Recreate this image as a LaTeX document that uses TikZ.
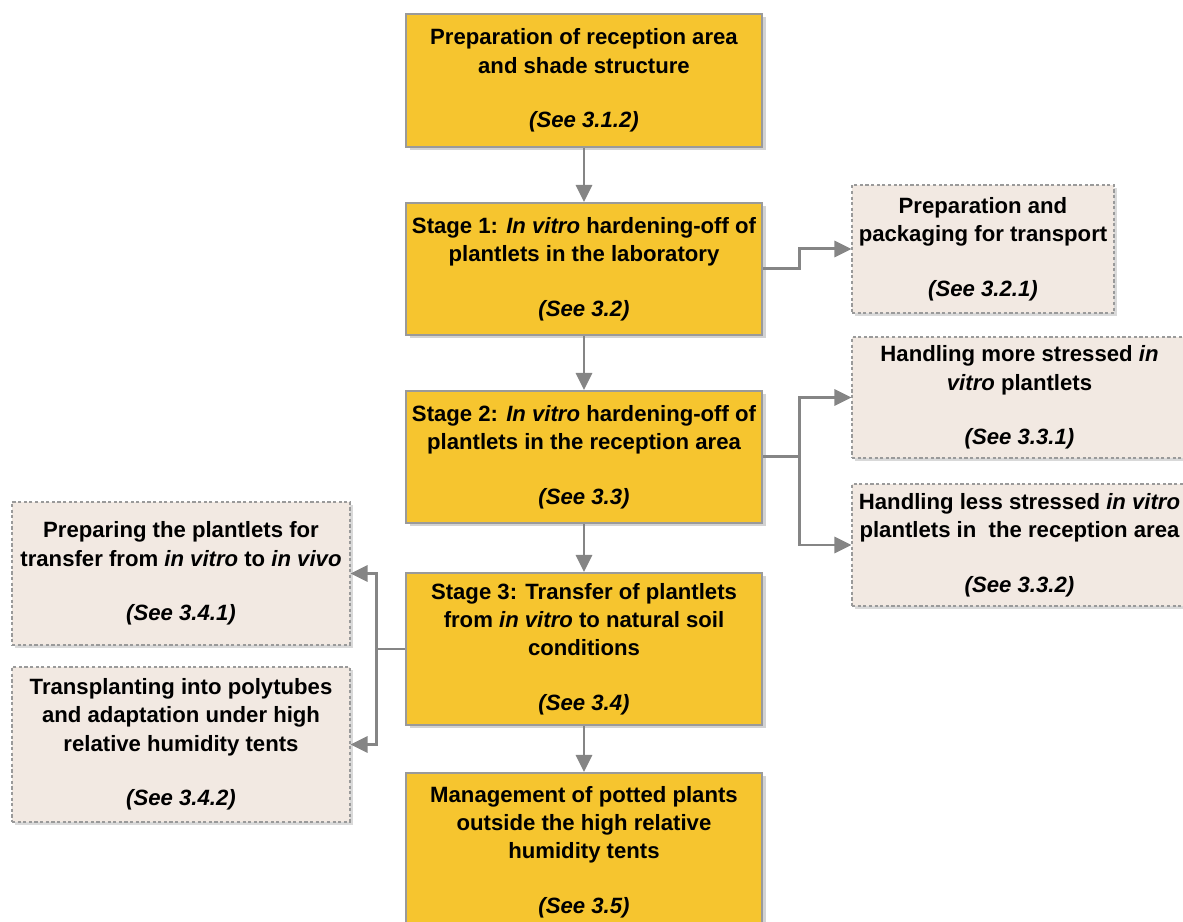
\documentclass[tikz,border=0pt]{standalone}
\usepackage{fontspec}
\setmainfont{Liberation Sans}
\usetikzlibrary{arrows.meta,shadows}

\definecolor{stageyellow}{HTML}{F6C52F}
\definecolor{notebeige}{HTML}{F2E9E2}
\definecolor{edgegray}{HTML}{9A9A9A}
\definecolor{arrowgray}{HTML}{858585}

\tikzset{
  stagebox/.style={draw=edgegray, line width=1.2pt, fill=stageyellow, align=center,
    font=\fontsize{12.6}{16}\selectfont\bfseries, inner xsep=0pt, inner ysep=2pt,
    drop shadow={shadow xshift=0.07cm, shadow yshift=-0.07cm, opacity=0.35}},
  notebox/.style={draw=edgegray, dash pattern=on 1.8pt off 1.4pt, line width=0.6pt, fill=notebeige, align=center,
    font=\fontsize{12.6}{16}\selectfont\bfseries, inner xsep=0pt, inner ysep=2pt,
    drop shadow={shadow xshift=0.06cm, shadow yshift=-0.06cm, opacity=0.3}},
  flow/.style={draw=arrowgray, line width=1.7pt, -{Triangle[length=0.34cm, width=0.32cm]}},
  link/.style={draw=arrowgray, line width=1.7pt},
}

\begin{document}
\begin{tikzpicture}

\useasboundingbox (0,0) rectangle (23.66,18.44);

% main stages
\node[stagebox, minimum width=7.12cm, minimum height=2.66cm] (prep) at (11.68,16.83)
  {Preparation of reception area\\ and shade structure\\[15pt]\textit{(See 3.1.2)}};
\node[stagebox, minimum width=7.12cm, minimum height=2.64cm] (stone) at (11.68,13.06)
  {Stage 1: \textit{In vitro} hardening-off of\\ plantlets in the laboratory\\[15pt]\textit{(See 3.2)}};
\node[stagebox, minimum width=7.12cm, minimum height=2.64cm] (sttwo) at (11.68,9.30)
  {Stage 2: \textit{In vitro} hardening-off of\\ plantlets in the reception area\\[15pt]\textit{(See 3.3)}};
\node[stagebox, minimum width=7.12cm, minimum height=3.04cm] (stthree) at (11.68,5.46)
  {Stage 3: Transfer of plantlets\\ from \textit{in vitro} to natural soil\\ conditions\\[15pt]\textit{(See 3.4)}};
\node[stagebox, minimum width=7.12cm, minimum height=3.16cm] (manage) at (11.68,1.40)
  {Management of potted plants\\ outside the high relative\\ humidity tents\\[15pt]\textit{(See 3.5)}};

% side notes
\node[notebox, minimum width=5.24cm, minimum height=2.56cm] (pack) at (19.66,13.46)
  {Preparation and\\ packaging for transport\\[15pt]\textit{(See 3.2.1)}};
\node[notebox, minimum width=6.7cm, minimum height=2.42cm] (more) at (20.39,10.49)
  {Handling more stressed \textit{in}\\ \textit{vitro} plantlets\\[15pt]\textit{(See 3.3.1)}};
\node[notebox, minimum width=6.7cm, minimum height=2.44cm] (less) at (20.39,7.54)
  {Handling less stressed \textit{in vitro}\\ plantlets in\ \ the reception area\\[15pt]\textit{(See 3.3.2)}};
\node[notebox, minimum width=6.76cm, minimum height=2.86cm] (ready) at (3.62,6.97)
  {Preparing the plantlets for\\ transfer from \textit{in vitro} to \textit{in vivo}\\[15pt]\textit{(See 3.4.1)}};
\node[notebox, minimum width=6.76cm, minimum height=3.10cm] (tubes) at (3.62,3.55)
  {Transplanting into polytubes\\ and adaptation under high\\ relative humidity tents\\[15pt]\textit{(See 3.4.2)}};

% connectors
\draw[flow] (prep) -- (stone);
\draw[flow] (stone) -- (sttwo);
\draw[flow] (sttwo) -- (stthree);
\draw[flow] (stthree) -- (manage);

\draw[flow] (stone.east) -- ++(0.72,0) |- (pack.west);

\draw[link] (sttwo.east) -- ++(0.72,0) coordinate (split2);
\draw[flow] (split2) |- (more.west);
\draw[flow] (split2) |- (less.west);

\draw[link] (stthree.west) -- ++(-0.56,0) coordinate (split3);
\draw[flow] (split3) |- (ready.east);
\draw[flow] (split3) |- (tubes.east);

\end{tikzpicture}
\end{document}
